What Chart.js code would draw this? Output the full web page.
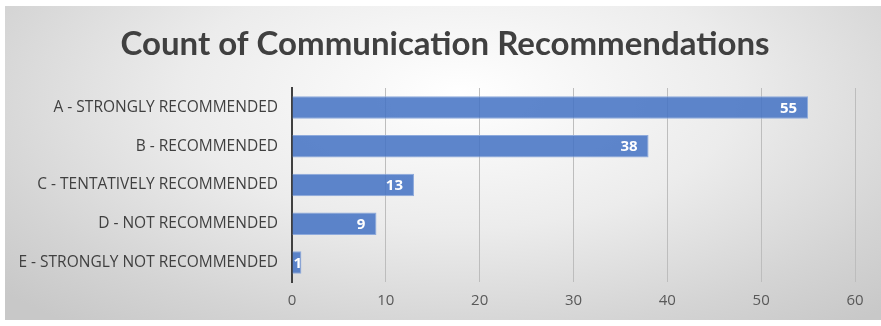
<!DOCTYPE html>
<html>
<head>
<meta charset="utf-8">
<script src="https://cdn.jsdelivr.net/npm/chart.js@4/dist/chart.umd.min.js"></script>
<style>
  html, body { margin: 0; padding: 0; background: #ffffff; }
  #frame {
    position: absolute;
    left: 5px;
    top: 6px;
    width: 876px;
    height: 314px;
    background: radial-gradient(ellipse 70% 95% at 52% 28%, #ffffff 0%, #ececec 45%, #d4d4d4 80%, #c8c8c8 100%);
  }
</style>
</head>
<body>
<div id="frame">
  <canvas id="recs" width="876" height="314"></canvas>
</div>
<script>
const chartTitle = "Count of Communication Recommendations";
const categories = [
  "A - STRONGLY RECOMMENDED",
  "B - RECOMMENDED",
  "C - TENTATIVELY RECOMMENDED",
  "D - NOT RECOMMENDED",
  "E - STRONGLY NOT RECOMMENDED"
];
const counts = [55, 38, 13, 9, 1];
const xTicks = [0, 10, 20, 30, 40, 50, 60];

// title drawn by hand so it can sit centred over the whole frame
const frameTitle = {
  id: "frameTitle",
  afterDraw(chart) {
    const ctx = chart.ctx;
    ctx.save();
    ctx.font = "bold 33px Lato, sans-serif";
    ctx.fillStyle = "#404040";
    ctx.textAlign = "center";
    ctx.textBaseline = "middle";
    ctx.fillText(chartTitle, 440, 38);
    ctx.restore();
  }
};

// white bold value labels at the inner end of each bar
const barValueLabels = {
  id: "barValueLabels",
  afterDatasetsDraw(chart) {
    const ctx = chart.ctx;
    const meta = chart.getDatasetMeta(0);
    ctx.save();
    ctx.font = "bold 15px 'Open Sans', sans-serif";
    ctx.fillStyle = "#ffffff";
    ctx.textAlign = "right";
    ctx.textBaseline = "middle";
    meta.data.forEach((bar, i) => {
      const text = String(counts[i]);
      const w = ctx.measureText(text).width;
      const x = Math.max(bar.x - 11, bar.base + w + 1);
      ctx.fillText(text, x, bar.y + 1);
    });
    ctx.restore();
  }
};

new Chart(document.getElementById("recs"), {
  type: "bar",
  data: {
    labels: categories,
    datasets: [{
      data: counts,
      backgroundColor: "rgba(68, 114, 196, 0.86)",
      borderColor: "#8eaadc",
      borderWidth: 1,
      barPercentage: 0.58,
      categoryPercentage: 1
    }]
  },
  options: {
    indexAxis: "y",
    responsive: false,
    animation: false,
    layout: { padding: { top: 82, right: 26, bottom: 0, left: 0 } },
    plugins: {
      legend: { display: false },
      tooltip: { enabled: false },
      title: { display: false }
    },
    scales: {
      x: {
        min: 0,
        max: 60,
        afterBuildTicks(axis) {
          axis.ticks = xTicks.map(v => ({ value: v }));
        },
        ticks: {
          color: "#595959",
          font: { family: "'Open Sans', sans-serif", size: 15 },
          padding: 10
        },
        grid: {
          color: "#bdbdbd",
          drawTicks: false
        },
        border: { display: false }
      },
      y: {
        afterFit(axis) { axis.width = 287; },
        ticks: {
          color: "#404040",
          font: { family: "'Open Sans', sans-serif", size: 15.5 },
          padding: 14
        },
        grid: { display: false, drawTicks: false },
        border: { display: true, color: "#404040", width: 2 }
      }
    }
  },
  plugins: [barValueLabels, frameTitle]
});
</script>
</body>
</html>
